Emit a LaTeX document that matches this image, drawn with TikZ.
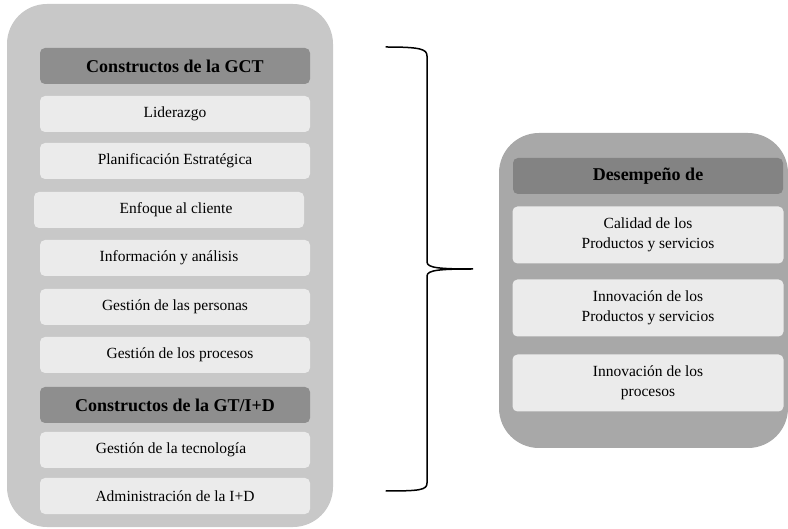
\documentclass[tikz,border=0pt]{standalone}
\usepackage{fontspec}
\setmainfont{Liberation Serif}
\definecolor{panelL}{HTML}{C8C8C8}
\definecolor{panelR}{HTML}{A8A8A8}
\definecolor{headfill}{HTML}{8E8E8E}
\definecolor{itemfill}{HTML}{EBEBEB}
\begin{document}
\begin{tikzpicture}[x=1pt,y=-1pt,
  panel/.style={rounded corners=40pt, draw=none},
  headbox/.style={fill=headfill, rounded corners=5pt, minimum width=270pt, minimum height=36pt,
    inner sep=0pt, font=\fontsize{18}{21}\selectfont\bfseries},
  itembox/.style={fill=itemfill, rounded corners=5pt, minimum width=270pt, minimum height=36pt,
    inner sep=0pt, font=\fontsize{15.5}{20.5}\selectfont},
  tallbox/.style={itembox, minimum width=271pt, minimum height=57pt, align=center},
  bracepath/.style={line width=1.5pt, line cap=round}]
\useasboundingbox (0,0) rectangle (788,529);

% left panel: quality and R&D management constructs
\fill[panelL, panel] (7,4) rectangle (333,527);
\node[headbox] (gct) at (175,66) {Constructos de la GCT};
\node[itembox] (lid) at (175,114) {Liderazgo};
\node[itembox] (plan) at (175,161) {Planificación Estratégica};
\node[itembox] (enf) at (169,210) {\hspace*{14pt}Enfoque al cliente};
\node[itembox] (info) at (175,258) {Información y análisis\hspace*{12pt}};
\node[itembox] (pers) at (175,307) {Gestión de las personas};
\node[itembox] (proc) at (175,355) {\hspace*{10pt}Gestión de los procesos};
\node[headbox] (gti) at (175,405) {Constructos de la GT/I+D};
\node[itembox] (tec) at (175,450) {Gestión de la tecnología\hspace*{8pt}};
\node[itembox] (adm) at (175,496) {Administración de la I+D};

% right panel: performance outcomes
\fill[panelR, panel] (499,133) rectangle (788,448);
\node[headbox, fill=headfill!92!black] (des) at (648,176) {Desempeño de};
\node[tallbox] (cal) at (648,235) {Calidad de los\\Productos y servicios};
\node[tallbox] (inp) at (648,308) {Innovación de los\\Productos y servicios};
\node[tallbox] (inpr) at (648,383) {Innovación de los\\procesos};

% curly brace joining both sides
\coordinate (btop) at (386,47);
\coordinate (bbot) at (386,491);
\coordinate (btip) at (473,269);
\draw[bracepath] (btop) .. controls (420,47) and (427,49) .. (427,56)
  -- (427,262) .. controls (427,268) and (440,269) .. (btip)
  .. controls (440,269) and (427,270) .. (427,276)
  -- (427,483) .. controls (427,490) and (420,491) .. (bbot);
\end{tikzpicture}
\end{document}
